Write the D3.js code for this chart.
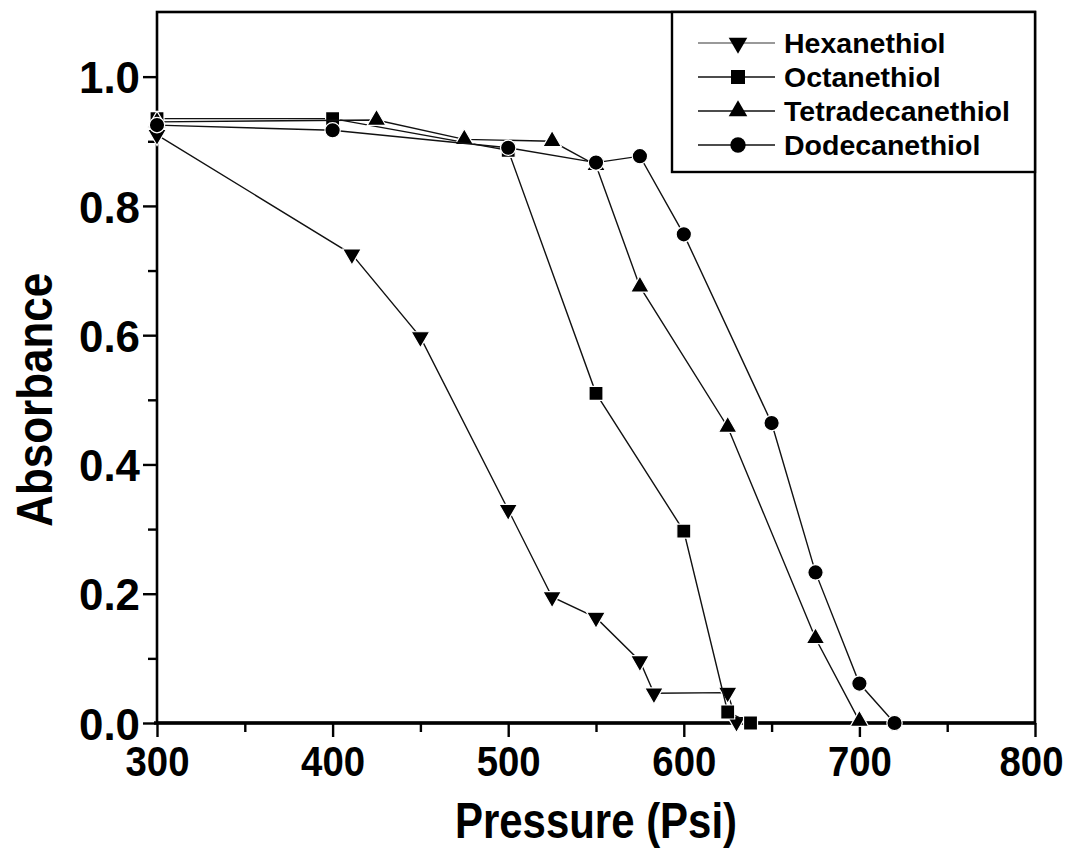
<!DOCTYPE html>
<html>
<head>
<meta charset="utf-8">
<script src="https://cdn.jsdelivr.net/npm/d3@7"></script>
<style>
	body { margin: 0; background: #fff; }
	text { font-family: "Liberation Sans", Arial, sans-serif; font-weight: bold; fill: #000; }
</style>
</head>
<body>
<div id="svg_container"></div>
<script>

/* -----------------------
data
------------------------- */

var seriesNames = ["Hexanethiol", "Octanethiol", "Tetradecanethiol", "Dodecanethiol"];

var hexP = [300, 411, 450, 500, 525, 550, 575, 583, 625, 630];
var hexA = [0.91, 0.725, 0.597, 0.33, 0.195, 0.163, 0.096, 0.046, 0.047, 0.002];

var octP = [300, 400, 500, 550, 600, 625, 638];
var octA = [0.935, 0.935, 0.886, 0.51, 0.297, 0.017, 0.0];

var tetP = [300, 425, 475, 525, 550, 575, 625, 675, 700];
var tetA = [0.93, 0.933, 0.903, 0.9, 0.863, 0.675, 0.458, 0.131, 0.003];

var dodP = [300, 400, 500, 550, 575, 600, 650, 675, 700, 720];
var dodA = [0.925, 0.917, 0.89, 0.867, 0.877, 0.756, 0.464, 0.233, 0.061, 0.0];

var xTicks = [300, 400, 500, 600, 700, 800];
var yTicks = [0.0, 0.2, 0.4, 0.6, 0.8, 1.0];

/* -----------------------
main variables
------------------------- */

var width = 1073;
var height = 860;

var margin = {top: 12, right: 38, bottom: 137, left: 157};

var symbols = [
	{type: d3.symbolTriangle, size: 150, rotate: 180},
	{type: d3.symbolSquare, size: 196, rotate: 0},
	{type: d3.symbolTriangle, size: 150, rotate: 0},
	{type: d3.symbolCircle, size: 185, rotate: 0}
];

var data = [
	{name: seriesNames[0], p: hexP, a: hexA},
	{name: seriesNames[1], p: octP, a: octA},
	{name: seriesNames[2], p: tetP, a: tetA},
	{name: seriesNames[3], p: dodP, a: dodA}
];

/* -----------------------
set plot
------------------------- */

var svg = d3.select("#svg_container")
	.append("svg")
	.attr("width", width)
	.attr("height", height)
	.style("display", "block")

var x = d3.scaleLinear().domain([300, 800]).range([margin.left, width - margin.right]);
var y = d3.scaleLinear().domain([0, 1.1]).range([height - margin.bottom, margin.top]);

// minor ticks
svg.append("g")
	.attr("transform", "translate(0," + y(0) + ")")
	.call(d3.axisBottom(x).tickValues([350, 450, 550, 650, 750]).tickSize(9).tickFormat(""))
	.call(function(g) { g.select(".domain").remove(); })
	.selectAll("line").attr("stroke-width", 2.4)

svg.append("g")
	.attr("transform", "translate(" + x(300) + ",0)")
	.call(d3.axisLeft(y).tickValues([0.1, 0.3, 0.5, 0.7, 0.9]).tickSize(9).tickFormat(""))
	.call(function(g) { g.select(".domain").remove(); })
	.selectAll("line").attr("stroke-width", 2.4)

// major ticks
var xAxis = svg.append("g")
	.attr("transform", "translate(0," + y(0) + ")")
	.call(d3.axisBottom(x).tickValues(xTicks).tickSize(14).tickPadding(8).tickFormat(d3.format("d")))
xAxis.select(".domain").remove();
xAxis.selectAll("line").attr("stroke-width", 2.4);
xAxis.selectAll("text")
	.style("font-size", "43px")
	.attr("fill", "#000")
	.attr("textLength", 64)
	.attr("lengthAdjust", "spacingAndGlyphs")
	.attr("dx", function(d) { return d == 800 ? -4 : 0; });

var yAxis = svg.append("g")
	.attr("transform", "translate(" + x(300) + ",0)")
	.call(d3.axisLeft(y).tickValues(yTicks).tickSize(14).tickPadding(3).tickFormat(d3.format(".1f")))
yAxis.select(".domain").remove();
yAxis.selectAll("line").attr("stroke-width", 2.4);
yAxis.selectAll("text")
	.style("font-size", "45px")
	.attr("fill", "#000")
	.attr("dy", "0.36em")
	.attr("textLength", 61)
	.attr("lengthAdjust", "spacingAndGlyphs");

// frame
svg.append("rect")
	.attr("x", x(300))
	.attr("y", y(1.1))
	.attr("width", x(800) - x(300))
	.attr("height", y(0) - y(1.1))
	.attr("fill", "none")
	.attr("stroke", "#000")
	.attr("stroke-width", 2.6)

svg.append("line")
	.attr("x1", x(300) - 3)
	.attr("x2", x(800))
	.attr("y1", y(0))
	.attr("y2", y(0))
	.attr("stroke", "#000")
	.attr("stroke-width", 3.4)

/* -----------------------
visualization
------------------------- */

var line = d3.line()
	.x(function(d) { return x(d[0]); })
	.y(function(d) { return y(d[1]); });

data.forEach(function(s, i) {
	var pts = s.p.map(function(v, j) { return [v, s.a[j]]; });

	svg.append("path")
		.datum(pts)
		.attr("fill", "none")
		.attr("stroke", "#111")
		.attr("stroke-width", 1.4)
		.attr("d", line)

	svg.selectAll(".pt" + i)
		.data(pts)
		.enter()
		.append("path")
		.attr("class", "pt" + i)
		.attr("d", d3.symbol().type(symbols[i].type).size(symbols[i].size))
		.attr("transform", function(d) {
			return "translate(" + x(d[0]) + "," + y(d[1]) + ") rotate(" + symbols[i].rotate + ")";
		})
		.attr("fill", "#000")
		.attr("stroke", "#fff")
		.attr("stroke-width", 1.2)
});

/* -----------------------
legend
------------------------- */

var legend = svg.append("g").attr("class", "legend");

legend.append("rect")
	.attr("x", 672)
	.attr("y", y(1.1))
	.attr("width", x(800) - 672)
	.attr("height", 160)
	.attr("fill", "#fff")
	.attr("stroke", "#000")
	.attr("stroke-width", 2.4)

var item = legend.selectAll(".item")
	.data(seriesNames)
	.enter()
	.append("g")
	.attr("class", "item")
	.attr("transform", function(d, i) { return "translate(0," + (43 + i * 34) + ")"; })

item.append("line")
	.attr("x1", 698)
	.attr("x2", 775)
	.attr("stroke", function(d, i) { return i == 0 ? "#777" : "#111"; })
	.attr("stroke-width", 1.6)

item.append("path")
	.attr("d", function(d, i) { return d3.symbol().type(symbols[i].type).size(symbols[i].size)(); })
	.attr("transform", function(d, i) { return "translate(738,0) rotate(" + symbols[i].rotate + ")"; })
	.attr("fill", "#000")

item.append("text")
	.attr("x", 784)
	.attr("dy", "0.36em")
	.style("font-size", "28.5px")
	.text(function(d) { return d; })

/* -----------------------
axis titles
------------------------- */

svg.append("text")
	.attr("transform", "translate(52," + y(0.5) + ") rotate(-90)")
	.attr("text-anchor", "middle")
	.attr("textLength", 254)
	.attr("lengthAdjust", "spacingAndGlyphs")
	.style("font-size", "50px")
	.text("Absorbance")

svg.append("text")
	.attr("x", (x(300) + x(800)) / 2)
	.attr("y", 838)
	.attr("text-anchor", "middle")
	.attr("textLength", 282)
	.attr("lengthAdjust", "spacingAndGlyphs")
	.style("font-size", "50px")
	.text("Pressure (Psi)")

</script>
</body>
</html>
